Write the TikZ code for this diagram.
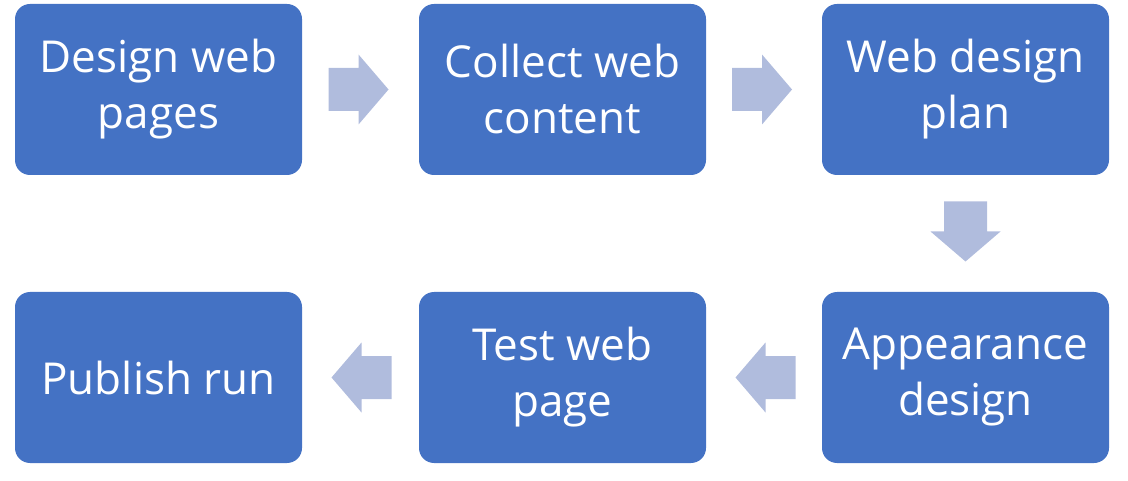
\documentclass[tikz,border=0pt]{standalone}
\usepackage{fontspec}
\setmainfont{Open Sans}
\usetikzlibrary{calc}
\definecolor{boxblue}{HTML}{4472C4}
\definecolor{arrblue}{HTML}{B0BCDD}
\begin{document}
\begin{tikzpicture}[x=1pt,y=1pt,
  stepbox/.style={fill=boxblue, draw=none, rounded corners=15pt, minimum width=287pt, minimum height=171pt, inner sep=0pt, text=white, align=center, font=\fontsize{44}{56}\selectfont},
  arr/.style={fill=arrblue, draw=none}]
\useasboundingbox (0,0) rectangle (1128,-481);
\node[stepbox] (a) at (158.5,-89.5) {Design web\\pages};
\node[stepbox] (b) at (562.5,-89.5) {Collect web\\content};
\node[stepbox] (c) at (965.5,-89.5) {Web design\\plan};
\node[stepbox] (d) at (965.5,-377.5) {Appearance\\design};
\node[stepbox] (e) at (562.5,-377.5) {Test web\\page};
\node[stepbox] (f) at (158.5,-377.5) {Publish run};
\coordinate (m1) at ($(a.east)!0.5!(b.west)+(-2,0)$);
\coordinate (m2) at ($(b.east)!0.5!(c.west)+(-2,0)$);
\coordinate (m3) at ($(c.south)!0.5!(d.north)+(0,2)$);
\coordinate (m4) at ($(d.west)!0.5!(e.east)+(1.5,0)$);
\coordinate (m5) at ($(e.west)!0.5!(f.east)+(1,0)$);
\foreach \m/\r in {m1/0, m2/0, m3/-90, m4/180, m5/180}{
  \fill[arr, shift={(\m)}, rotate=\r] (-30,21.5) -- (0,21.5) -- (0,35) -- (30,0) -- (0,-35) -- (0,-21.5) -- (-30,-21.5) -- cycle;
}
\end{tikzpicture}
\end{document}
